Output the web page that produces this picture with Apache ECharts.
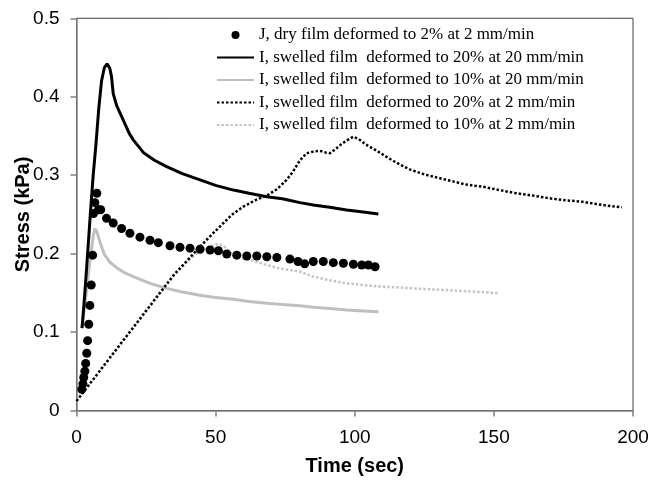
<!DOCTYPE html>
<html>
<head>
<meta charset="utf-8">
<script src="https://cdn.jsdelivr.net/npm/echarts@6/dist/echarts.min.js"></script>
<style>html,body{margin:0;padding:0;background:#fff}#c{width:653px;height:483px}</style>
</head>
<body>
<div id="c"></div>
<script>
const seriesNames = [
  "J, dry film deformed to 2% at 2 mm/min",
  "I, swelled film  deformed to 20% at 20 mm/min",
  "I, swelled film  deformed to 10% at 20 mm/min",
  "I, swelled film  deformed to 20% at 2 mm/min",
  "I, swelled film  deformed to 10% at 2 mm/min"
];
const xTicks = [0, 50, 100, 150, 200];
const yTicks = [0, 0.1, 0.2, 0.3, 0.4, 0.5];

// J, dry film 2% at 2 mm/min (dots)
const dryTime = [1.9,2.3,2.6,3.0,3.3,3.7,4.0,4.4,4.8,5.3,5.8,6.1,6.6,7.3,7.9,8.7,10.8,13.2,16.2,19.2,22.8,26.4,29.4,33.6,37.2,40.8,44.4,48.0,51.0,54.0,57.6,61.2,64.8,68.4,72.0,76.7,79.6,82.0,85.1,88.7,92.3,95.9,99.5,102.5,104.9,107.3];
const dryStress = [0.027,0.034,0.042,0.050,0.060,0.073,0.089,0.110,0.134,0.160,0.198,0.251,0.265,0.277,0.256,0.256,0.245,0.239,0.232,0.226,0.221,0.217,0.214,0.210,0.208,0.207,0.2055,0.2046,0.2037,0.1995,0.198,0.197,0.197,0.196,0.195,0.193,0.190,0.187,0.190,0.190,0.1885,0.1877,0.1864,0.1855,0.1855,0.1833];

// I, swelled 20% at 20 mm/min (black solid)
const s20fTime = [2.0,3.0,4.0,5.0,6.0,7.0,8.0,9.0,10.0,11.0,12.0,12.6,13.2,14.4,16.2,19.0,20.4,24.0,28.0,32.4,38.0,44.4,50.0,56.4,62.0,68.4,74.0,80.3,85.1,91.0,97.1,103.0,108.5];
const s20fStress = [0.105,0.150,0.200,0.252,0.300,0.340,0.385,0.420,0.437,0.442,0.436,0.425,0.404,0.389,0.375,0.353,0.345,0.329,0.319,0.311,0.302,0.294,0.287,0.281,0.277,0.2726,0.270,0.265,0.262,0.259,0.2556,0.253,0.2505];

// I, swelled 10% at 20 mm/min (grey solid)
const s10fTime = [1.9,3.0,4.0,5.0,6.0,6.6,7.3,8.4,10.0,12.0,14.5,17.0,20.4,26.4,32.4,38.0,44.4,50.0,56.4,62.0,68.4,74.0,80.3,85.1,91.0,97.1,103.0,108.5];
const s10fStress = [0.105,0.135,0.165,0.195,0.222,0.232,0.228,0.215,0.199,0.189,0.182,0.176,0.1706,0.162,0.1557,0.151,0.147,0.144,0.1417,0.139,0.1366,0.135,0.1336,0.1316,0.130,0.128,0.127,0.126];

// I, swelled 20% at 2 mm/min (black dotted)
const s20sTime = [0,5,10,15,20,25,30,35,40,44.4,48,52.8,56,60,64.8,68.4,72,75.5,77.9,80.3,82.7,85.1,87.5,89.5,91.1,93,95,97.5,99.5,101.5,104,108,112,116,120,125,133,140,146,152,158,164,170,176,182,189,196];
const s20sStress = [0.012,0.035,0.058,0.081,0.104,0.127,0.150,0.173,0.192,0.209,0.222,0.239,0.250,0.260,0.269,0.274,0.282,0.294,0.305,0.319,0.328,0.330,0.331,0.329,0.328,0.333,0.339,0.345,0.349,0.346,0.339,0.331,0.322,0.314,0.307,0.301,0.294,0.288,0.2853,0.281,0.277,0.274,0.2705,0.268,0.266,0.262,0.259];

// I, swelled 10% at 2 mm/min (grey dotted)
const s10sTime = [0,5,10,15,20,25,30,35,40,44.4,48,50.4,52.5,54.5,56.4,59,62.4,68.4,73.1,80.3,85.1,91,97.1,103,109.1,115,121,127,133,138,143.8,151.6];
const s10sStress = [0.012,0.035,0.058,0.081,0.104,0.127,0.150,0.172,0.190,0.204,0.209,0.212,0.211,0.204,0.198,0.195,0.192,0.1855,0.181,0.177,0.1706,0.166,0.162,0.160,0.158,0.157,0.1557,0.1545,0.1536,0.1525,0.1515,0.1494];

function zip(a, b) { return a.map((v, i) => [v, b[i]]); }

const chart = echarts.init(document.getElementById('c'), null, {renderer: 'canvas'});
const axisColor = '#808080';
const hideSym = {opacity: 0};
chart.setOption({
  animation: false,
  backgroundColor: '#fff',
  grid: {left: 76.5, right: 20, top: 18.3, bottom: 72.5, show: true, borderColor: '#404040', borderWidth: 1,
         containLabel: false, outerBoundsMode: 'none'},
  legend: {
    orient: 'vertical', left: 216, top: 26.5, padding: 0,
    itemWidth: 37, itemHeight: 14, itemGap: 5.5,
    textStyle: {fontFamily: 'Liberation Serif', fontSize: 17, color: '#000', lineHeight: 17},
    data: [
      {name: seriesNames[0], icon: 'path://M0,0M37,14M14.5,7a4,4 0 1,0 8,0a4,4 0 1,0 -8,0', itemStyle: {opacity: 1}},
      {name: seriesNames[1], itemStyle: hideSym},
      {name: seriesNames[2], itemStyle: hideSym},
      {name: seriesNames[3], itemStyle: hideSym},
      {name: seriesNames[4], itemStyle: hideSym}
    ]
  },
  xAxis: {
    type: 'value', min: xTicks[0], max: xTicks[xTicks.length - 1], interval: 50,
    name: 'Time (sec)', nameLocation: 'middle', nameGap: 46, nameMoveOverlap: false,
    nameTextStyle: {fontFamily: 'Liberation Sans', fontWeight: 'bold', fontSize: 20, color: '#000'},
    axisLine: {lineStyle: {color: axisColor, width: 1.5}},
    axisTick: {show: true, inside: false, length: 6, lineStyle: {color: axisColor, width: 1.5}},
    axisLabel: {fontFamily: 'Liberation Sans', fontSize: 19, color: '#000', margin: 18},
    splitLine: {show: false}
  },
  yAxis: {
    type: 'value', min: yTicks[0], max: yTicks[yTicks.length - 1], interval: 0.1,
    name: 'Stress (kPa)', nameLocation: 'middle', nameGap: 43, nameMoveOverlap: false,
    nameTextStyle: {fontFamily: 'Liberation Sans', fontWeight: 'bold', fontSize: 20, color: '#000'},
    axisLine: {show: true, lineStyle: {color: axisColor, width: 1.5}},
    axisTick: {show: true, inside: false, length: 6, lineStyle: {color: axisColor, width: 1.5}},
    axisLabel: {fontFamily: 'Liberation Sans', fontSize: 19, color: '#000', margin: 17},
    splitLine: {show: false}
  },
  series: [
    {name: seriesNames[4], type: 'line', symbol: 'none', data: zip(s10sTime, s10sStress),
     lineStyle: {color: '#c4c4c4', width: 2.5, type: [2.5, 2]}, itemStyle: {color: '#c4c4c4'}, z: 2},
    {name: seriesNames[3], type: 'line', symbol: 'none', data: zip(s20sTime, s20sStress),
     lineStyle: {color: '#000', width: 2.5, type: [2.5, 2]}, itemStyle: {color: '#000'}, z: 3},
    {name: seriesNames[2], type: 'line', symbol: 'none', data: zip(s10fTime, s10fStress),
     lineStyle: {color: '#bfbfbf', width: 3}, itemStyle: {color: '#bfbfbf'}, z: 2},
    {name: seriesNames[1], type: 'line', symbol: 'none', data: zip(s20fTime, s20fStress),
     lineStyle: {color: '#000', width: 3}, itemStyle: {color: '#000'}, z: 3},
    {name: seriesNames[0], type: 'scatter', symbol: 'circle', symbolSize: 9, data: zip(dryTime, dryStress),
     itemStyle: {color: '#000', opacity: 1}, z: 4}
  ]
});
</script>
</body>
</html>
